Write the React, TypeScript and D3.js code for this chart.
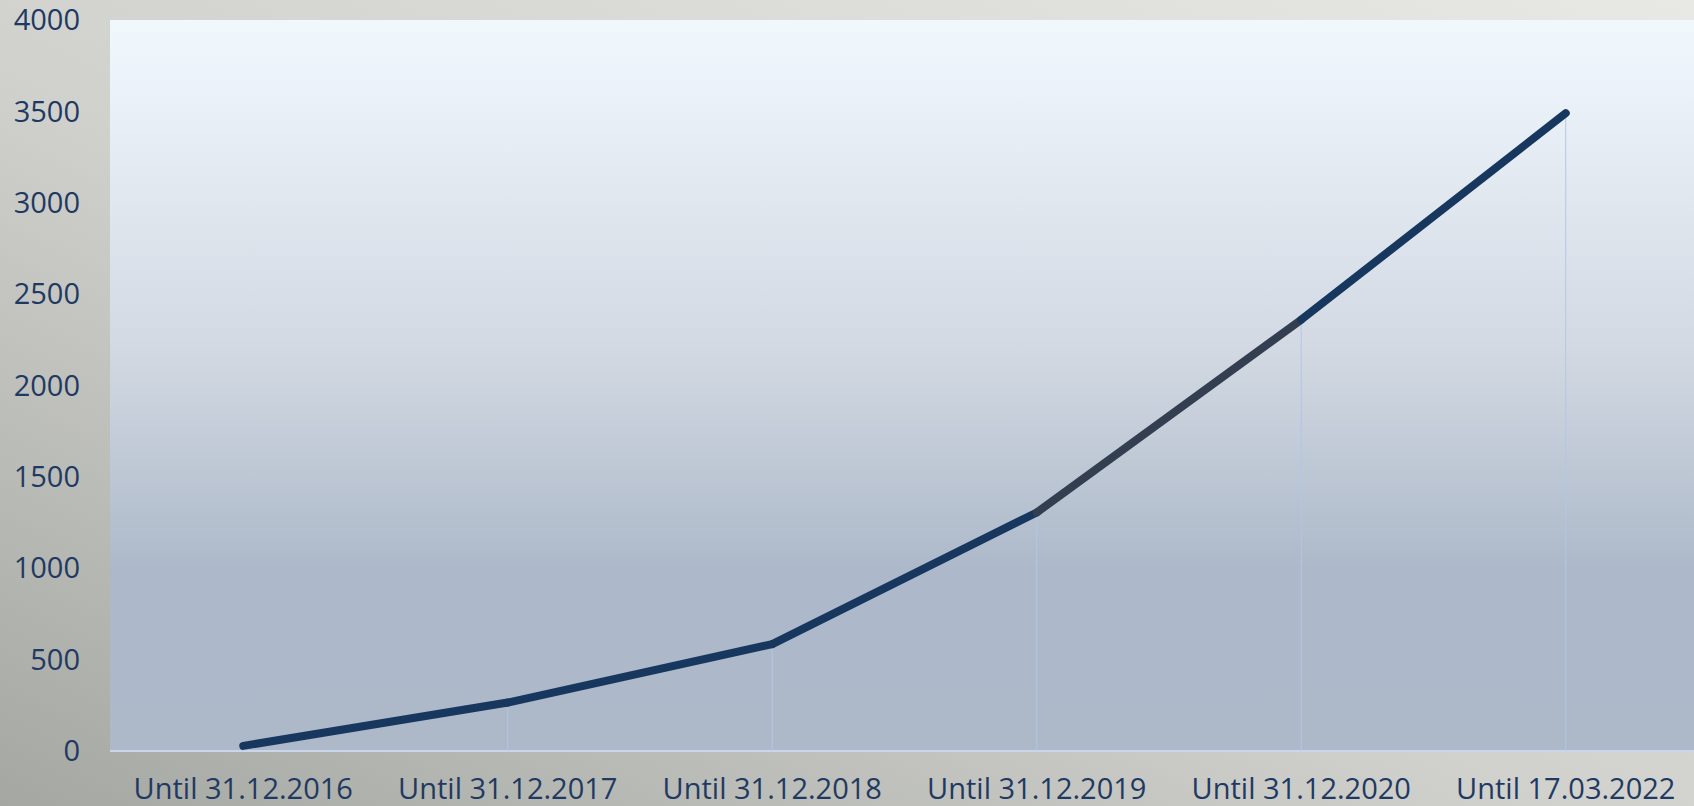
import React, { useEffect, useRef } from 'react';
import * as d3 from 'd3';

const categories = [
  'Until 31.12.2016',
  'Until 31.12.2017',
  'Until 31.12.2018',
  'Until 31.12.2019',
  'Until 31.12.2020',
  'Until 17.03.2022',
];
const values = [28, 265, 585, 1305, 2360, 3490];
const segmentColors = ['#17375e', '#17375e', '#17375e', '#333f50', '#17375e'];
const yTicks = [0, 500, 1000, 1500, 2000, 2500, 3000, 3500, 4000];

export default function App() {
  const ref = useRef<SVGSVGElement | null>(null);

  useEffect(() => {
    const W = 1694;
    const H = 806;
    const margin = { left: 110, right: 0, top: 20, bottom: 55 };
    const width = W - margin.left - margin.right;
    const height = H - margin.top - margin.bottom;

    const svg = d3.select(ref.current);
    svg.selectAll('*').remove();

    const defs = svg.append('defs');
    const bg = defs
      .append('linearGradient')
      .attr('id', 'outerBg')
      .attr('x1', '100%')
      .attr('y1', '0%')
      .attr('x2', '0%')
      .attr('y2', '100%');
    bg.append('stop').attr('offset', '0%').attr('stop-color', '#e8e9e5');
    bg.append('stop').attr('offset', '55%').attr('stop-color', '#d0d1cd');
    bg.append('stop').attr('offset', '100%').attr('stop-color', '#a5a7a2');

    const plotBg = defs
      .append('linearGradient')
      .attr('id', 'plotBg')
      .attr('x1', '0%')
      .attr('y1', '0%')
      .attr('x2', '0%')
      .attr('y2', '100%');
    plotBg.append('stop').attr('offset', '0%').attr('stop-color', '#f0f8fc');
    plotBg.append('stop').attr('offset', '12%').attr('stop-color', '#eaf0f8');
    plotBg.append('stop').attr('offset', '45%').attr('stop-color', '#d2d9e2');
    plotBg.append('stop').attr('offset', '75%').attr('stop-color', '#adb9ca');
    plotBg.append('stop').attr('offset', '100%').attr('stop-color', '#adb8c9');

    svg.append('rect').attr('width', W).attr('height', H).attr('fill', 'url(#outerBg)');

    const g = svg.append('g').attr('transform', `translate(${margin.left},${margin.top})`);

    g.append('rect').attr('width', width).attr('height', height).attr('fill', 'url(#plotBg)');

    const x = d3.scaleBand().domain(categories).range([1, width + 4]);
    const y = d3.scaleLinear().domain([0, 4000]).range([height, 0]);
    const cx = (c: string) => (x(c) as number) + x.bandwidth() / 2;

    // axis line
    g.append('line')
      .attr('x1', 0)
      .attr('x2', width)
      .attr('y1', y(0))
      .attr('y2', y(0))
      .attr('stroke', '#c9d6ec')
      .attr('stroke-width', 2);

    // drop lines
    g.selectAll('line.drop')
      .data(categories)
      .enter()
      .append('line')
      .attr('class', 'drop')
      .attr('x1', d => cx(d))
      .attr('x2', d => cx(d))
      .attr('y1', (d, i) => y(values[i]))
      .attr('y2', y(0))
      .attr('stroke', '#b3c6e6')
      .attr('stroke-width', 1);

    const pts: [number, number][] = categories.map((c, i) => [cx(c), y(values[i])]);
    const line = d3.line();
    for (let i = 0; i < pts.length - 1; i++) {
      g.append('path')
        .attr('d', line([pts[i], pts[i + 1]]))
        .attr('fill', 'none')
        .attr('stroke', segmentColors[i])
        .attr('stroke-width', 8)
        .attr('stroke-linecap', 'round');
    }

    const font = '"Open Sans", sans-serif';
    g.selectAll('text.ytick')
      .data(yTicks)
      .enter()
      .append('text')
      .attr('class', 'ytick')
      .attr('x', -30)
      .attr('y', d => y(d))
      .attr('dy', '0.35em')
      .attr('text-anchor', 'end')
      .attr('fill', '#1f3a62')
      .style('font-family', font)
      .style('font-size', '29px')
      .text(d => d);

    g.selectAll('text.xtick')
      .data(categories)
      .enter()
      .append('text')
      .attr('class', 'xtick')
      .attr('x', d => cx(d))
      .attr('y', height + 48)
      .attr('text-anchor', 'middle')
      .attr('fill', '#1f3a62')
      .style('font-family', font)
      .style('font-size', '29px')
      .text(d => d);
  }, []);

  return (
    <div style={{ position: 'absolute', left: 0, top: 0 }}>
      <svg ref={ref} width={1694} height={806} style={{ display: 'block' }} />
    </div>
  );
}
